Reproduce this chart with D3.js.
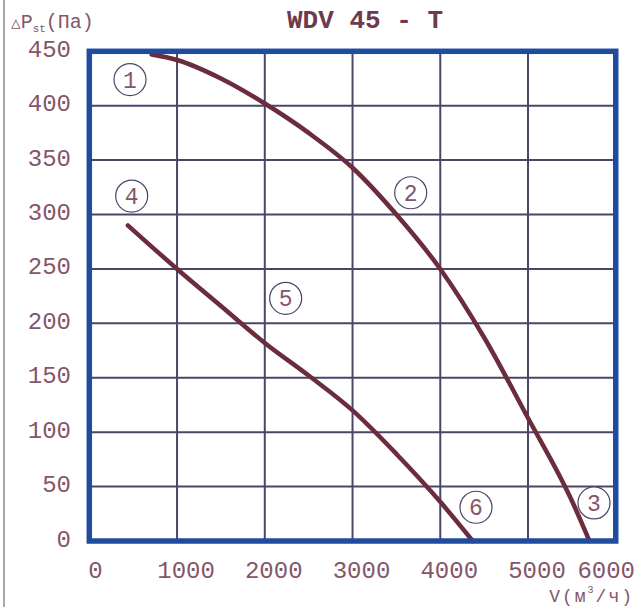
<!DOCTYPE html>
<html>
<head>
<meta charset="utf-8">
<script src="https://cdn.jsdelivr.net/npm/d3@7"></script>
<style>
  body { margin: 0; background: #fff; }
  svg { display: block; }
  text { font-family: "Liberation Mono", "Courier New", monospace; }
</style>
</head>
<body>
<div id="chart"></div>
<script>
// Curve 1-2-3 (upper fan curve), flow in m3/h and pressure in Pa
const flowUpper = [710, 1000, 1500, 2000, 2500, 3000, 3500, 4000, 4500, 5000, 5500, 5700];
const pressUpper = [447, 442, 425, 402, 375, 343, 300, 250, 187, 113, 37, 0];

// Curve 4-5-6 (lower fan curve)
const flowLower = [440, 1000, 1500, 2000, 2500, 3000, 3500, 4000, 4370];
const pressLower = [290, 250, 216, 182, 152, 120, 80, 36, 0];

// Numbered point markers
const markerIds = ['1', '2', '3', '4', '5', '6'];
const markerFlow = [464, 3663, 5752, 483, 2238, 4407];
const markerPress = [424, 320, 35, 317, 223, 31];

const xTicks = [0, 1000, 2000, 3000, 4000, 5000, 6000];
const yTicks = [0, 50, 100, 150, 200, 250, 300, 350, 400, 450];

const config = {
  width: 637,
  height: 607,
  margin: {top: 51.3, right: 21.25, bottom: 66, left: 89.3},
  curveColor: '#6b2c3d',
  gridColor: '#4b4668',
  frameColor: '#1f4c9e',
  textColor: '#84566a'
};

const svg = d3.select('#chart').append('svg')
    .attr('width', config.width)
    .attr('height', config.height);

const x = d3.scaleLinear()
    .domain([0, 6000])
    .range([config.margin.left, config.width - config.margin.right]);

const y = d3.scaleLinear()
    .domain([0, 450])
    .range([config.height - config.margin.bottom, config.margin.top]);

// thin gray line at left edge of the picture
svg.append('line')
    .attr('x1', 4).attr('x2', 4)
    .attr('y1', 0).attr('y2', config.height)
    .attr('stroke', '#8a8a8a')
    .attr('stroke-width', 1.5);

// grid
const grid = svg.append('g');
grid.selectAll('.vgrid')
  .data(xTicks.slice(1, -1))
  .join('line')
    .attr('x1', d => x(d)).attr('x2', d => x(d))
    .attr('y1', y(450)).attr('y2', y(0))
    .attr('stroke', config.gridColor)
    .attr('stroke-width', 2);
grid.selectAll('.hgrid')
  .data(yTicks.slice(1, -1))
  .join('line')
    .attr('x1', x(0)).attr('x2', x(6000))
    .attr('y1', d => y(d)).attr('y2', d => y(d))
    .attr('stroke', config.gridColor)
    .attr('stroke-width', 2);

// tick labels
svg.append('g').selectAll('text')
  .data(yTicks)
  .join('text')
    .attr('x', 71)
    .attr('y', d => y(d) + 5.5)
    .attr('text-anchor', 'end')
    .attr('font-size', 24)
    .attr('fill', config.textColor)
    .text(d => d);

svg.append('g').selectAll('text')
  .data(xTicks)
  .join('text')
    .attr('x', (d, i) => i === 0 ? x(d) - 1 : (i === xTicks.length - 1 ? 635 : x(d) + 9))
    .attr('y', 578)
    .attr('text-anchor', (d, i) => i === 0 ? 'start' : (i === xTicks.length - 1 ? 'end' : 'middle'))
    .attr('font-size', 24)
    .attr('fill', config.textColor)
    .text(d => d);

// curves
const line = d3.line()
    .x(d => x(d[0]))
    .y(d => y(d[1]))
    .curve(d3.curveMonotoneX);

const curves = [
  d3.zip(flowUpper, pressUpper),
  d3.zip(flowLower, pressLower)
];

svg.append('g').selectAll('path')
  .data(curves)
  .join('path')
    .attr('d', line)
    .attr('fill', 'none')
    .attr('stroke', config.curveColor)
    .attr('stroke-width', 4.5)
    .attr('stroke-linecap', 'round');

// frame
svg.append('rect')
    .attr('x', x(0))
    .attr('y', y(450))
    .attr('width', x(6000) - x(0))
    .attr('height', y(0) - y(450))
    .attr('fill', 'none')
    .attr('stroke', config.frameColor)
    .attr('stroke-width', 5.5);

// numbered markers
const markers = svg.append('g').selectAll('g')
  .data(markerIds.map((id, i) => ({id, fx: markerFlow[i], p: markerPress[i]})))
  .join('g')
    .attr('transform', d => `translate(${x(d.fx)},${y(d.p)})`);

markers.append('circle')
    .attr('r', 16)
    .attr('fill', '#fff')
    .attr('stroke', config.gridColor)
    .attr('stroke-width', 1.2);

markers.append('text')
    .attr('y', 8)
    .attr('text-anchor', 'middle')
    .attr('font-size', 23)
    .attr('fill', config.textColor)
    .text(d => d.id);

// titles
svg.append('text')
    .attr('x', 365)
    .attr('y', 28)
    .attr('text-anchor', 'middle')
    .attr('font-size', 26)
    .attr('font-weight', 'bold')
    .attr('fill', '#6e3a4c')
    .text('WDV 45 - T');

const yTitle = svg.append('text')
    .attr('x', 11)
    .attr('y', 28)
    .attr('font-size', 20)
    .attr('fill', config.textColor);
yTitle.append('tspan').attr('font-size', 16).text('△');
yTitle.append('tspan').text('P');
yTitle.append('tspan').attr('font-size', 11).attr('dy', 4).text('st');
yTitle.append('tspan').attr('dy', -4).text('(Па)');

const xTitle = svg.append('text')
    .attr('x', 634)
    .attr('y', 602)
    .attr('text-anchor', 'end')
    .attr('font-size', 18)
    .attr('letter-spacing', 2)
    .attr('fill', config.textColor);
xTitle.append('tspan').text('V(м');
xTitle.append('tspan').attr('font-size', 10).attr('dy', -9).text('3');
xTitle.append('tspan').attr('dy', 9).text('/ч)');
</script>
</body>
</html>
